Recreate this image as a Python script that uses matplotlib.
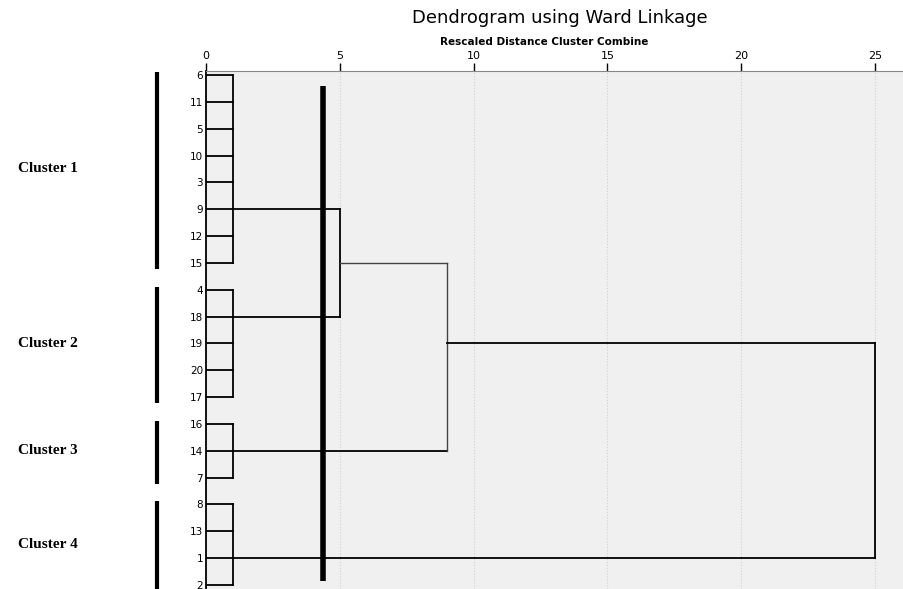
import matplotlib
matplotlib.use("Agg")
import matplotlib.pyplot as plt
import matplotlib.transforms as mtransforms

# leaf order top -> bottom
leaf_labels = ["6", "11", "5", "10", "3", "9", "12", "15",
               "4", "18", "19", "20", "17",
               "16", "14", "7",
               "8", "13", "1", "2"]
cluster_names = ["Cluster 1", "Cluster 2", "Cluster 3", "Cluster 4"]
cluster_sizes = [8, 5, 3, 4]
within_height = 1.0
# leaf row where each cluster's branch leaves the cluster
cluster_join_rows = [6, 10, 15, 19]
merge_heights = [5.0, 9.0, 25.0]   # C1+C2, (C1,C2)+C3, all+C4
cut_height = 4.36
xticks = [0, 5, 10, 15, 20, 25]

fig = plt.figure(figsize=(9.04, 5.89), dpi=100)
ax = fig.add_axes([206 / 904, 0, 698 / 904, 518 / 589])
ax.set_facecolor("#f0f0f0")

n = len(leaf_labels)
rows = list(range(1, n + 1))
lc = "black"
lw = 1.3

# leaves and within-cluster verticals
start = 1
bounds = []
for size in cluster_sizes:
    end = start + size - 1
    for r in range(start, end + 1):
        ax.plot([0, within_height], [r, r], color=lc, lw=lw)
    ax.plot([within_height, within_height], [start, end], color=lc, lw=lw)
    bounds.append((start, end))
    start = end + 1

# higher merges
j = cluster_join_rows
ax.plot([within_height, merge_heights[0]], [j[0], j[0]], color=lc, lw=lw)
ax.plot([within_height, merge_heights[0]], [j[1], j[1]], color=lc, lw=lw)
ax.plot([merge_heights[0]] * 2, [j[0], j[1]], color=lc, lw=lw)
r12 = (j[0] + j[1]) // 2
ax.plot([merge_heights[0], merge_heights[1]], [r12, r12], color="#444444", lw=1.0)
ax.plot([within_height, merge_heights[1]], [j[2], j[2]], color=lc, lw=lw)
ax.plot([merge_heights[1]] * 2, [r12, j[2]], color="#444444", lw=1.0)
r123 = (r12 + j[2]) // 2
ax.plot([merge_heights[1], merge_heights[2]], [r123, r123], color=lc, lw=lw)
ax.plot([within_height, merge_heights[2]], [j[3], j[3]], color=lc, lw=lw)
ax.plot([merge_heights[2]] * 2, [r123, j[3]], color=lc, lw=lw)

# cut line
ax.plot([cut_height, cut_height], [1.4, 19.85], color="black", lw=4, solid_capstyle="butt")

ax.set_xlim(0, 26.08)
ax.set_ylim(20.15, 0.85)

ax.xaxis.tick_top()
ax.set_xticks(xticks)
ax.set_xticklabels([str(t) for t in xticks], fontsize=8)
ax.tick_params(axis="x", direction="out", length=6, width=1, pad=1)
ax.set_yticks(rows)
ax.set_yticklabels(leaf_labels, fontsize=7.5)
ax.tick_params(axis="y", length=0, pad=2)
ax.grid(axis="x", color="#d0d0d0", linestyle=":", lw=0.8)
ax.set_axisbelow(True)
for s in ["right", "bottom"]:
    ax.spines[s].set_visible(False)
ax.spines["top"].set_color("#888888")
ax.spines["left"].set_color("black")
ax.spines["left"].set_linewidth(1.3)

# cluster bars and names at the left
trans = mtransforms.blended_transform_factory(ax.transAxes, ax.transData)
for name, (s, e) in zip(cluster_names, bounds):
    ax.plot([-0.0702, -0.0702], [s - 0.12, e + 0.22], color="black", lw=3,
            transform=trans, clip_on=False, solid_capstyle="butt")
    ax.text(-0.270, (s + e) / 2, name, transform=trans, ha="left", va="center",
            fontsize=11, fontweight="bold", family="Liberation Serif")

fig.text(560 / 904, 1 - 18 / 589, "Dendrogram using Ward Linkage",
         ha="center", va="center", fontsize=13)
fig.text(544 / 904, 1 - 42 / 589, "Rescaled Distance Cluster Combine",
         ha="center", va="center", fontsize=7.5, fontweight="bold")

fig.savefig("out.png", dpi=100)
